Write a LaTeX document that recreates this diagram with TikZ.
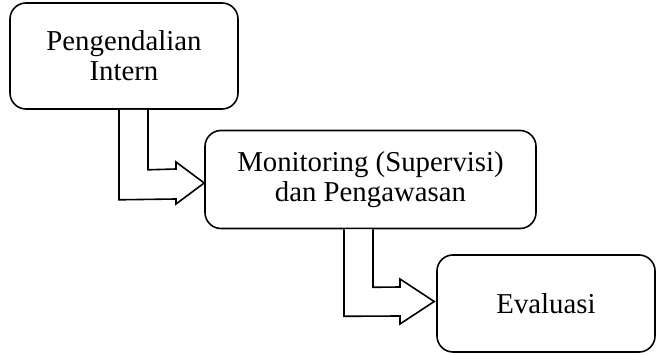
\documentclass[tikz,border=0pt]{standalone}
\usepackage{fontspec}
\setmainfont{Liberation Serif}
\usetikzlibrary{calc}
\begin{document}
\begin{tikzpicture}[x=1pt,y=-1pt,
  box/.style={draw,line width=1.6pt,rounded corners=16pt,align=center,
    font=\fontsize{28.8}{30}\selectfont,inner sep=0pt},
  blockarrow/.style={draw,line width=1.6pt,line join=miter,fill=white}]
\useasboundingbox (0,0) rectangle (657,355);
\node[box,minimum width=228pt,minimum height=106pt] (b1) at (124,56) {Pengendalian\\Intern};
\node[box,minimum width=331pt,minimum height=98pt] (b2) at (370.5,179.5) {Monitoring (Supervisi)\\dan Pengawasan};
\node[box,minimum width=218pt,minimum height=97pt] (b3) at (546,303.5) {Evaluasi};
% arrow from b1 to b2
\draw[blockarrow] ($(b1.south)+(-5,0)$) -- ($(b1.south)+(-5,90)$) -- (176,199) -- (176,204)
  -- ($(b2.west)+(0,3.5)$) -- (176,162) -- (176,169) -- ($(b1.south)+(24,60)$) -- ($(b1.south)+(24,0)$);
% arrow from b2 to b3
\draw[blockarrow] ($(b2.south)+(-26.5,0)$) -- ($(b2.south)+(-26.5,87)$) -- (400,316) -- (400,324)
  -- ($(b3.west)+(-2,-2)$) -- (400,279) -- (400,287) -- ($(b2.south)+(2.5,58)$) -- ($(b2.south)+(2.5,0)$);
\end{tikzpicture}
\end{document}
